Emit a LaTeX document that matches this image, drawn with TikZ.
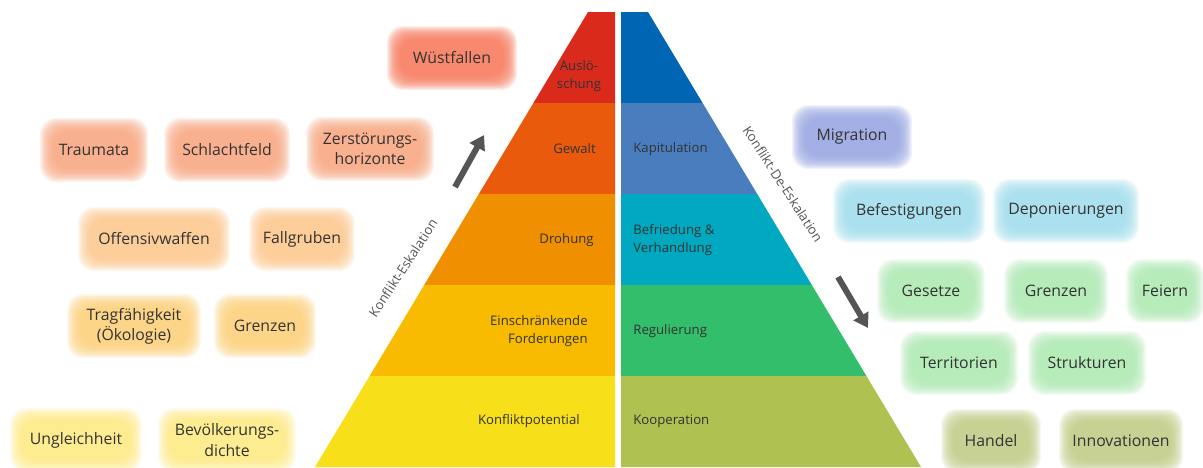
\documentclass[tikz,border=0pt]{standalone}
\usepackage{fontspec}
\setmainfont{Open Sans}
\usetikzlibrary{arrows.meta}

% Stufen links (Eskalation)
\definecolor{lRot}{HTML}{DA2A1C}
\definecolor{lRotorange}{HTML}{E95A0C}
\definecolor{lOrange}{HTML}{F08F00}
\definecolor{lGold}{HTML}{F8BB00}
\definecolor{lGelb}{HTML}{F7DF1A}
% Stufen rechts (De-Eskalation)
\definecolor{rBlau}{HTML}{0066B3}
\definecolor{rMittelblau}{HTML}{4A7DBE}
\definecolor{rTuerkis}{HTML}{00A9C0}
\definecolor{rGruen}{HTML}{33BE6C}
\definecolor{rOliv}{HTML}{AFC151}
% Kaestchen
\definecolor{kLachs}{HTML}{F87C5E}
\definecolor{kApricot}{HTML}{F9A983}
\definecolor{kPfirsich}{HTML}{FDC98F}
\definecolor{kOcker}{HTML}{FDD37C}
\definecolor{kHellgelb}{HTML}{FEEC84}
\definecolor{kLavendel}{HTML}{9AA8E4}
\definecolor{kHellcyan}{HTML}{A3E0EE}
\definecolor{kHellgruen}{HTML}{B0EBB4}
\definecolor{kHelloliv}{HTML}{C2CE88}
\definecolor{txtgrau}{HTML}{333333}
\definecolor{pfeilgrau}{HTML}{555555}

\tikzset{
  boxtext/.style={font=\fontsize{9}{11.5}\selectfont, text=txtgrau, align=center},
  stufe/.style={font=\fontsize{7.5}{10}\selectfont, text=txtgrau, inner sep=0pt},
  achse/.style={font=\fontsize{7.5}{9}\selectfont, text=pfeilgrau},
  pfeil/.style={draw=pfeilgrau, line width=3.4pt, -{Triangle[length=8pt,width=9.5pt]}},
}

\begin{document}
\begin{tikzpicture}[x=0.02cm,y=-0.02cm]
  \fill[white] (0,0) rectangle (1203,467);
  \useasboundingbox (0,0) rectangle (1203,467);

  %% Pyramide, zwei Haelften
  \foreach \a/\b/\cl/\cr in {12/103/lRot/rBlau, 103/194/lRotorange/rMittelblau,
      194/285/lOrange/rTuerkis, 285/376/lGold/rGruen, 376/467/lGelb/rOliv} {
    \fill[\cl] ({588-0.6*(\a-12)},\a) -- (615,\a) -- (615,\b) -- ({588-0.6*(\b-12)},\b) -- cycle;
    \fill[\cr] (621,\a) -- ({648+0.6*(\a-12)},\a) -- ({648+0.6*(\b-12)},\b) -- (621,\b) -- cycle;
  }

  \node[stufe, align=center] (ausloeschung) at (579,76) {Auslö-\\schung};
  \node[stufe, anchor=east] (gewalt) at (596,149) {Gewalt};
  \node[stufe, anchor=east] (drohung) at (594,240) {Drohung};
  \node[stufe, anchor=east, align=right] (forderungen) at (588,331) {Einschränkende\\Forderungen};
  \node[stufe, anchor=east] (potential) at (580,421) {Konfliktpotential};

  \node[stufe, anchor=west] (kapitulation) at (633,149) {Kapitulation};
  \node[stufe, anchor=west, align=left] (befriedung) at (633,240) {Befriedung \&\\Verhandlung};
  \node[stufe, anchor=west] (regulierung) at (633,331) {Regulierung};
  \node[stufe, anchor=west] (kooperation) at (633,421) {Kooperation};

  %% Richtung
  \node[achse, rotate=57] (eskalation) at (403,268) {Konflikt-Eskalation};
  \node[achse, rotate=-57] (deeskalation) at (783,184) {Konflikt-De-Eskalation};
  \coordinate (hoch1) at (455,187);
  \coordinate (hoch2) at (484,135);
  \coordinate (runter1) at (838,277);
  \coordinate (runter2) at (868,328);
  \draw[pfeil] (hoch1) -- (hoch2);
  \draw[pfeil] (runter1) -- (runter2);

  %% weiche Kaestchen
  \foreach \n/\x/\y/\w/\h/\c/\t in {
      wuestfallen/452/58/130/64/kLachs/Wüstfallen,
      traumata/94/150/108/64/kApricot/Traumata,
      schlachtfeld/227/150/126/64/kApricot/Schlachtfeld,
      horizonte/370/149/128/64/kApricot/{Zerstörungs-\\horizonte},
      offensivwaffen/154/239/152/64/kPfirsich/Offensivwaffen,
      fallgruben/302/239/106/64/kPfirsich/Fallgruben,
      tragfaehigkeit/134/326/134/64/kOcker/{Tragfähigkeit\\(Ökologie)},
      grenzenL/265/326/102/64/kOcker/Grenzen,
      ungleichheit/76/440/132/64/kHellgelb/Ungleichheit,
      bevoelkerung/227/440/138/64/kHellgelb/{Bevölkerungs-\\dichte},
      migration/852/137/120/64/kLavendel/Migration,
      befestigungen/909/211/152/64/kHellcyan/Befestigungen,
      deponierungen/1066/211/146/64/kHellcyan/Deponierungen,
      gesetze/931/291/108/64/kHellgruen/Gesetze,
      grenzenR/1056/291/104/64/kHellgruen/Grenzen,
      feiern/1165/291/78/64/kHellgruen/Feiern,
      territorien/959/363/118/64/kHellgruen/Territorien,
      strukturen/1087/363/118/64/kHellgruen/Strukturen,
      handel/991/441/100/64/kHelloliv/Handel,
      innovationen/1121/441/124/64/kHelloliv/Innovationen} {
    \foreach \k in {0,...,15}
      \fill[\c, opacity=0.12, rounded corners=9pt]
        ({\x-\w/2+0.9*\k},{\y-\h/2+0.9*\k}) rectangle ({\x+\w/2-0.9*\k},{\y+\h/2-0.9*\k});
    \node[boxtext] (\n) at (\x,\y) {\t};
  }
\end{tikzpicture}
\end{document}
